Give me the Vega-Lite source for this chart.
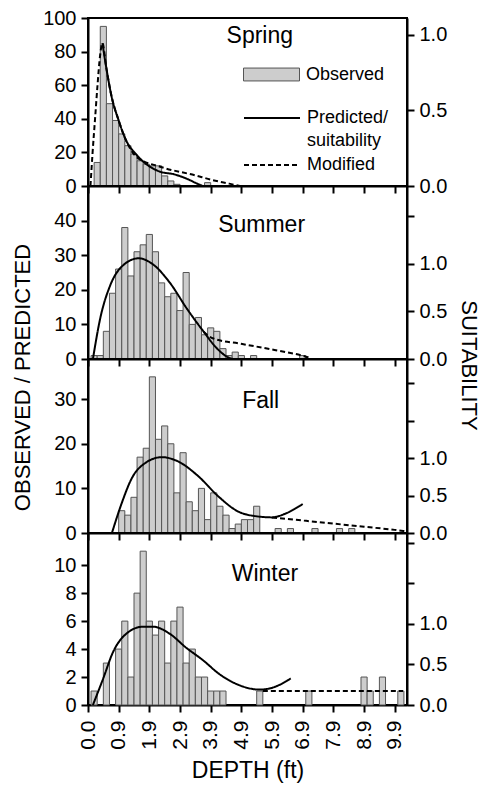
{
  "$schema": "https://vega.github.io/schema/vega-lite/v6.json",
  "padding": {"left": 9, "top": 7, "right": 0, "bottom": 0},
  "spacing": 0,
  "bounds": "flush",
  "config": {
    "font": "Liberation Sans",
    "view": {"stroke": "#000", "strokeWidth": 2},
    "axis": {"domainColor": "#000", "domainWidth": 2, "tickColor": "#000", "tickWidth": 2, "tickSize": 7, "tickCount": 20, "labelColor": "#000", "labelFontSize": 20, "labelFont": "Liberation Sans", "labelPadding": 5, "labelOverlap": false, "labelFlush": false, "labelBound": false, "grid": false, "titleColor": "#000", "titleFontWeight": "normal", "titleFont": "Liberation Sans"},
    "legend": {"padding": 0, "labelFont": "Liberation Sans", "labelFontSize": 18, "labelColor": "#000"}
  },
  "resolve": {"scale": {"fill": "independent", "strokeDash": "independent"}, "legend": {"fill": "independent", "strokeDash": "independent"}},
  "datasets": {
    "bars": [
      {"s": "Spring", "lo": 0.2, "hi": 0.4, "n": 14}, {"s": "Spring", "lo": 0.4, "hi": 0.6, "n": 95}, {"s": "Spring", "lo": 0.6, "hi": 0.8, "n": 49}, {"s": "Spring", "lo": 0.8, "hi": 1.0, "n": 39}, {"s": "Spring", "lo": 1.0, "hi": 1.2, "n": 31}, {"s": "Spring", "lo": 1.2, "hi": 1.4, "n": 24}, {"s": "Spring", "lo": 1.4, "hi": 1.6, "n": 19}, {"s": "Spring", "lo": 1.6, "hi": 1.8, "n": 15}, {"s": "Spring", "lo": 1.8, "hi": 2.0, "n": 13}, {"s": "Spring", "lo": 2.0, "hi": 2.2, "n": 12}, {"s": "Spring", "lo": 2.2, "hi": 2.4, "n": 12}, {"s": "Spring", "lo": 2.4, "hi": 2.6, "n": 6}, {"s": "Spring", "lo": 2.6, "hi": 2.8, "n": 3}, {"s": "Spring", "lo": 2.8, "hi": 3.0, "n": 1}, {"s": "Spring", "lo": 3.8, "hi": 4.0, "n": 2},
      {"s": "Summer", "lo": 0.1, "hi": 0.3, "n": 1}, {"s": "Summer", "lo": 0.3, "hi": 0.5, "n": 1}, {"s": "Summer", "lo": 0.5, "hi": 0.7, "n": 8}, {"s": "Summer", "lo": 0.7, "hi": 0.9, "n": 19}, {"s": "Summer", "lo": 0.9, "hi": 1.1, "n": 26}, {"s": "Summer", "lo": 1.1, "hi": 1.3, "n": 38}, {"s": "Summer", "lo": 1.3, "hi": 1.5, "n": 24}, {"s": "Summer", "lo": 1.5, "hi": 1.7, "n": 31}, {"s": "Summer", "lo": 1.7, "hi": 1.9, "n": 33}, {"s": "Summer", "lo": 1.9, "hi": 2.1, "n": 36}, {"s": "Summer", "lo": 2.1, "hi": 2.3, "n": 31}, {"s": "Summer", "lo": 2.3, "hi": 2.5, "n": 22}, {"s": "Summer", "lo": 2.5, "hi": 2.7, "n": 18}, {"s": "Summer", "lo": 2.7, "hi": 2.9, "n": 19}, {"s": "Summer", "lo": 2.9, "hi": 3.1, "n": 14}, {"s": "Summer", "lo": 3.1, "hi": 3.3, "n": 25}, {"s": "Summer", "lo": 3.3, "hi": 3.5, "n": 10}, {"s": "Summer", "lo": 3.5, "hi": 3.7, "n": 12}, {"s": "Summer", "lo": 3.7, "hi": 3.9, "n": 7}, {"s": "Summer", "lo": 3.9, "hi": 4.1, "n": 9}, {"s": "Summer", "lo": 4.1, "hi": 4.3, "n": 8}, {"s": "Summer", "lo": 4.3, "hi": 4.5, "n": 3}, {"s": "Summer", "lo": 4.5, "hi": 4.7, "n": 1}, {"s": "Summer", "lo": 4.7, "hi": 4.9, "n": 2}, {"s": "Summer", "lo": 4.9, "hi": 5.1, "n": 1}, {"s": "Summer", "lo": 5.3, "hi": 5.5, "n": 1}, {"s": "Summer", "lo": 6.9, "hi": 7.1, "n": 1},
      {"s": "Fall", "lo": 1.0, "hi": 1.2, "n": 5}, {"s": "Fall", "lo": 1.2, "hi": 1.4, "n": 4}, {"s": "Fall", "lo": 1.4, "hi": 1.6, "n": 8}, {"s": "Fall", "lo": 1.6, "hi": 1.8, "n": 17}, {"s": "Fall", "lo": 1.8, "hi": 2.0, "n": 19}, {"s": "Fall", "lo": 2.0, "hi": 2.2, "n": 35}, {"s": "Fall", "lo": 2.2, "hi": 2.4, "n": 21}, {"s": "Fall", "lo": 2.4, "hi": 2.6, "n": 24}, {"s": "Fall", "lo": 2.6, "hi": 2.8, "n": 20}, {"s": "Fall", "lo": 2.8, "hi": 3.0, "n": 9}, {"s": "Fall", "lo": 3.0, "hi": 3.2, "n": 18}, {"s": "Fall", "lo": 3.2, "hi": 3.4, "n": 7}, {"s": "Fall", "lo": 3.4, "hi": 3.6, "n": 5}, {"s": "Fall", "lo": 3.6, "hi": 3.8, "n": 10}, {"s": "Fall", "lo": 3.8, "hi": 4.0, "n": 3}, {"s": "Fall", "lo": 4.0, "hi": 4.2, "n": 9}, {"s": "Fall", "lo": 4.2, "hi": 4.4, "n": 6}, {"s": "Fall", "lo": 4.4, "hi": 4.6, "n": 4}, {"s": "Fall", "lo": 4.6, "hi": 4.8, "n": 1}, {"s": "Fall", "lo": 4.8, "hi": 5.0, "n": 2}, {"s": "Fall", "lo": 5.0, "hi": 5.2, "n": 3}, {"s": "Fall", "lo": 5.2, "hi": 5.4, "n": 3}, {"s": "Fall", "lo": 5.4, "hi": 5.6, "n": 6}, {"s": "Fall", "lo": 6.1, "hi": 6.3, "n": 1}, {"s": "Fall", "lo": 6.5, "hi": 6.7, "n": 1}, {"s": "Fall", "lo": 7.3, "hi": 7.5, "n": 1}, {"s": "Fall", "lo": 8.1, "hi": 8.3, "n": 1}, {"s": "Fall", "lo": 8.5, "hi": 8.7, "n": 1},
      {"s": "Winter", "lo": 0.1, "hi": 0.3, "n": 1}, {"s": "Winter", "lo": 0.5, "hi": 0.7, "n": 3}, {"s": "Winter", "lo": 0.9, "hi": 1.1, "n": 4}, {"s": "Winter", "lo": 1.1, "hi": 1.3, "n": 6}, {"s": "Winter", "lo": 1.3, "hi": 1.5, "n": 2}, {"s": "Winter", "lo": 1.5, "hi": 1.7, "n": 8}, {"s": "Winter", "lo": 1.7, "hi": 1.9, "n": 11}, {"s": "Winter", "lo": 1.9, "hi": 2.1, "n": 6}, {"s": "Winter", "lo": 2.1, "hi": 2.3, "n": 5}, {"s": "Winter", "lo": 2.3, "hi": 2.5, "n": 6}, {"s": "Winter", "lo": 2.5, "hi": 2.7, "n": 3}, {"s": "Winter", "lo": 2.7, "hi": 2.9, "n": 6}, {"s": "Winter", "lo": 2.9, "hi": 3.1, "n": 7}, {"s": "Winter", "lo": 3.1, "hi": 3.3, "n": 3}, {"s": "Winter", "lo": 3.3, "hi": 3.5, "n": 4}, {"s": "Winter", "lo": 3.5, "hi": 3.7, "n": 2}, {"s": "Winter", "lo": 3.7, "hi": 3.9, "n": 2}, {"s": "Winter", "lo": 3.9, "hi": 4.1, "n": 1}, {"s": "Winter", "lo": 4.1, "hi": 4.3, "n": 1}, {"s": "Winter", "lo": 4.3, "hi": 4.5, "n": 1}, {"s": "Winter", "lo": 5.5, "hi": 5.7, "n": 1}, {"s": "Winter", "lo": 7.1, "hi": 7.3, "n": 1}, {"s": "Winter", "lo": 8.9, "hi": 9.1, "n": 2}, {"s": "Winter", "lo": 9.1, "hi": 9.3, "n": 1}, {"s": "Winter", "lo": 9.5, "hi": 9.7, "n": 2}, {"s": "Winter", "lo": 10.1, "hi": 10.3, "n": 1}
    ],
    "lines": [
      {"s": "Spring", "k": "Predicted/suitability", "x": 0.47, "y": 85}, {"s": "Spring", "k": "Predicted/suitability", "x": 0.6, "y": 70}, {"s": "Spring", "k": "Predicted/suitability", "x": 0.76, "y": 54}, {"s": "Spring", "k": "Predicted/suitability", "x": 1.0, "y": 39}, {"s": "Spring", "k": "Predicted/suitability", "x": 1.22, "y": 28}, {"s": "Spring", "k": "Predicted/suitability", "x": 1.56, "y": 19}, {"s": "Spring", "k": "Predicted/suitability", "x": 1.9, "y": 13}, {"s": "Spring", "k": "Predicted/suitability", "x": 2.35, "y": 8.5}, {"s": "Spring", "k": "Predicted/suitability", "x": 2.8, "y": 7}, {"s": "Spring", "k": "Predicted/suitability", "x": 3.26, "y": 4}, {"s": "Spring", "k": "Predicted/suitability", "x": 3.55, "y": 1.5}, {"s": "Spring", "k": "Predicted/suitability", "x": 3.75, "y": 0},
      {"s": "Spring", "k": "Modified", "x": 0.08, "y": 0}, {"s": "Spring", "k": "Modified", "x": 0.15, "y": 20}, {"s": "Spring", "k": "Modified", "x": 0.23, "y": 40}, {"s": "Spring", "k": "Modified", "x": 0.31, "y": 60}, {"s": "Spring", "k": "Modified", "x": 0.39, "y": 77}, {"s": "Spring", "k": "Modified", "x": 0.47, "y": 85}, {"s": "Spring", "k": "Modified", "x": 0.6, "y": 70}, {"s": "Spring", "k": "Modified", "x": 0.76, "y": 54}, {"s": "Spring", "k": "Modified", "x": 1.0, "y": 39}, {"s": "Spring", "k": "Modified", "x": 1.22, "y": 28}, {"s": "Spring", "k": "Modified", "x": 1.6, "y": 17}, {"s": "Spring", "k": "Modified", "x": 2.35, "y": 11.5}, {"s": "Spring", "k": "Modified", "x": 3.5, "y": 6.3}, {"s": "Spring", "k": "Modified", "x": 4.05, "y": 3.6}, {"s": "Spring", "k": "Modified", "x": 4.6, "y": 1.4}, {"s": "Spring", "k": "Modified", "x": 4.95, "y": 0},
      {"s": "Summer", "k": "Predicted/suitability", "x": 0.16, "y": 0}, {"s": "Summer", "k": "Predicted/suitability", "x": 0.4, "y": 11.8}, {"s": "Summer", "k": "Predicted/suitability", "x": 0.73, "y": 21.4}, {"s": "Summer", "k": "Predicted/suitability", "x": 1.16, "y": 27.2}, {"s": "Summer", "k": "Predicted/suitability", "x": 1.65, "y": 29.1}, {"s": "Summer", "k": "Predicted/suitability", "x": 2.14, "y": 27.2}, {"s": "Summer", "k": "Predicted/suitability", "x": 2.68, "y": 21.9}, {"s": "Summer", "k": "Predicted/suitability", "x": 3.22, "y": 14.6}, {"s": "Summer", "k": "Predicted/suitability", "x": 3.77, "y": 7.9}, {"s": "Summer", "k": "Predicted/suitability", "x": 4.2, "y": 3.1}, {"s": "Summer", "k": "Predicted/suitability", "x": 4.64, "y": 0.2}, {"s": "Summer", "k": "Predicted/suitability", "x": 4.74, "y": 0},
      {"s": "Summer", "k": "Modified", "x": 3.77, "y": 7.9}, {"s": "Summer", "k": "Modified", "x": 4.06, "y": 6}, {"s": "Summer", "k": "Modified", "x": 4.99, "y": 4.4}, {"s": "Summer", "k": "Modified", "x": 6.08, "y": 2.6}, {"s": "Summer", "k": "Modified", "x": 7.17, "y": 0.5}, {"s": "Summer", "k": "Modified", "x": 7.27, "y": 0.2},
      {"s": "Fall", "k": "Predicted/suitability", "x": 0.78, "y": 0}, {"s": "Fall", "k": "Predicted/suitability", "x": 1.1, "y": 6.7}, {"s": "Fall", "k": "Predicted/suitability", "x": 1.43, "y": 12.3}, {"s": "Fall", "k": "Predicted/suitability", "x": 1.87, "y": 15.7}, {"s": "Fall", "k": "Predicted/suitability", "x": 2.41, "y": 17}, {"s": "Fall", "k": "Predicted/suitability", "x": 2.95, "y": 16}, {"s": "Fall", "k": "Predicted/suitability", "x": 3.6, "y": 12.7}, {"s": "Fall", "k": "Predicted/suitability", "x": 4.25, "y": 8.2}, {"s": "Fall", "k": "Predicted/suitability", "x": 4.9, "y": 4.8}, {"s": "Fall", "k": "Predicted/suitability", "x": 5.55, "y": 3.7}, {"s": "Fall", "k": "Predicted/suitability", "x": 6.0, "y": 3.5}, {"s": "Fall", "k": "Predicted/suitability", "x": 6.42, "y": 4.3}, {"s": "Fall", "k": "Predicted/suitability", "x": 7.0, "y": 6.5},
      {"s": "Fall", "k": "Modified", "x": 6.0, "y": 3.5}, {"s": "Fall", "k": "Modified", "x": 7.0, "y": 2.8}, {"s": "Fall", "k": "Modified", "x": 8.0, "y": 2.1}, {"s": "Fall", "k": "Modified", "x": 9.0, "y": 1.4}, {"s": "Fall", "k": "Modified", "x": 10.0, "y": 0.7}, {"s": "Fall", "k": "Modified", "x": 10.35, "y": 0.4},
      {"s": "Winter", "k": "Predicted/suitability", "x": 0.16, "y": 0}, {"s": "Winter", "k": "Predicted/suitability", "x": 0.49, "y": 1.86}, {"s": "Winter", "k": "Predicted/suitability", "x": 0.82, "y": 3.8}, {"s": "Winter", "k": "Predicted/suitability", "x": 1.25, "y": 5.1}, {"s": "Winter", "k": "Predicted/suitability", "x": 1.79, "y": 5.6}, {"s": "Winter", "k": "Predicted/suitability", "x": 2.12, "y": 5.6}, {"s": "Winter", "k": "Predicted/suitability", "x": 2.66, "y": 5.1}, {"s": "Winter", "k": "Predicted/suitability", "x": 3.2, "y": 4.1}, {"s": "Winter", "k": "Predicted/suitability", "x": 3.75, "y": 3.2}, {"s": "Winter", "k": "Predicted/suitability", "x": 4.29, "y": 2.2}, {"s": "Winter", "k": "Predicted/suitability", "x": 4.95, "y": 1.4}, {"s": "Winter", "k": "Predicted/suitability", "x": 5.6, "y": 1.1}, {"s": "Winter", "k": "Predicted/suitability", "x": 6.03, "y": 1.25}, {"s": "Winter", "k": "Predicted/suitability", "x": 6.61, "y": 1.9},
      {"s": "Winter", "k": "Modified", "x": 5.7, "y": 1.0}, {"s": "Winter", "k": "Modified", "x": 10.27, "y": 1.0}
    ]
  },
  "vconcat": [
    {
      "width": 319, "height": 168,
      "layer": [
        {
          "layer": [
            {
              "data": {"name": "bars"}, "transform": [{"filter": "datum.s == 'Spring'"}],
              "mark": {"type": "bar", "stroke": "#555", "strokeWidth": 1},
              "encoding": {
                "x": {"field": "lo", "type": "quantitative", "scale": {"domain": [0, 10.4], "nice": false, "zero": false}, "axis": {"values": [0,1,2,3,4,5,6,7,8,9,10], "tickCount": 20, "labels": false, "title": null}},
                "x2": {"field": "hi"},
                "y": {"field": "n", "type": "quantitative", "scale": {"domain": [0, 100], "nice": false}, "axis": {"values": [0,20,40,60,80,100], "tickCount": 20, "format": "d", "title": null}},
                "y2": {"datum": 0},
                "fill": {"datum": "Observed", "type": "nominal", "scale": {"range": ["#cdcdcd"]}, "legend": {"orient": "none", "legendX": 155, "legendY": 28, "title": null, "symbolType": "M-1,-0.23H1V0.23H-1Z", "symbolSize": 3136, "symbolStrokeColor": "#555", "symbolStrokeWidth": 1, "symbolOpacity": 1, "labelOffset": 6}}
              }
            },
            {
              "data": {"name": "lines"}, "transform": [{"filter": "datum.s == 'Spring'"}],
              "mark": {"type": "line", "color": "#000", "strokeWidth": 2, "interpolate": "monotone"},
              "encoding": {
                "x": {"field": "x", "type": "quantitative"},
                "y": {"field": "y", "type": "quantitative"},
                "strokeDash": {"field": "k", "type": "nominal", "scale": {"domain": ["Predicted/suitability", "Modified"], "range": [[1, 0], [5, 3]]}, "legend": {"orient": "none", "legendX": 169, "legendY": 85, "title": null, "symbolType": "M-2,0L2,0", "symbolSize": 784, "symbolStrokeColor": "#000", "symbolStrokeWidth": 2, "labelOffset": 20, "labelBaseline": "middle", "rowPadding": -2, "labelExpr": "datum.label == 'Modified' ? 'Modified' : ['Predicted/', 'suitability']", "encode": {"labels": {"update": {"lineHeight": {"value": 23}}}}}}
              }
            },
            {
              "data": {"values": [{"t": "Spring"}]},
              "mark": {"type": "text", "fontSize": 23, "color": "#000"},
              "encoding": {"x": {"datum": 5.6, "type": "quantitative"}, "y": {"datum": 89, "type": "quantitative"}, "text": {"field": "t"}}
            }
          ]
        },
        {
          "data": {"values": [{}]},
          "mark": {"type": "rule", "opacity": 0},
          "encoding": {"y": {"datum": 0, "type": "quantitative", "scale": {"domain": [0, 1.111], "nice": false}, "axis": {"orient": "right", "values": [0, 0.5, 1], "tickCount": 20, "format": ".1f", "title": null}}}
        }
      ],
      "resolve": {"scale": {"y": "independent"}}
    },
    {
      "width": 319, "height": 173,
      "layer": [
        {
          "layer": [
            {
              "data": {"name": "bars"}, "transform": [{"filter": "datum.s == 'Summer'"}],
              "mark": {"type": "bar", "stroke": "#555", "strokeWidth": 1, "fill": "#cdcdcd"},
              "encoding": {
                "x": {"field": "lo", "type": "quantitative", "scale": {"domain": [0, 10.4], "nice": false, "zero": false}, "axis": {"values": [0,1,2,3,4,5,6,7,8,9,10], "tickCount": 20, "labels": false, "title": null}},
                "x2": {"field": "hi"},
                "y": {"field": "n", "type": "quantitative", "scale": {"domain": [0, 50], "nice": false}, "axis": {"values": [0,10,20,30,40], "tickCount": 20, "format": "d", "title": null}},
                "y2": {"datum": 0}
              }
            },
            {
              "data": {"name": "lines"}, "transform": [{"filter": "datum.s == 'Summer'"}],
              "mark": {"type": "line", "color": "#000", "strokeWidth": 2, "interpolate": "monotone"},
              "encoding": {
                "x": {"field": "x", "type": "quantitative"},
                "y": {"field": "y", "type": "quantitative"},
                "strokeDash": {"field": "k", "type": "nominal", "scale": {"domain": ["Predicted/suitability", "Modified"], "range": [[1, 0], [5, 3]]}, "legend": null}
              }
            },
            {
              "data": {"values": [{"t": "Summer"}]},
              "mark": {"type": "text", "fontSize": 23, "color": "#000"},
              "encoding": {"x": {"datum": 5.66, "type": "quantitative"}, "y": {"datum": 38.7, "type": "quantitative"}, "text": {"field": "t"}}
            }
          ]
        },
        {
          "data": {"values": [{}]},
          "mark": {"type": "rule", "opacity": 0},
          "encoding": {"y": {"datum": 0, "type": "quantitative", "scale": {"domain": [0, 1.812], "nice": false}, "axis": {"orient": "right", "values": [0, 0.5, 1, 1.5], "tickCount": 20, "labelExpr": "datum.value > 1.01 ? '' : format(datum.value, '.1f')", "title": null}}}
        }
      ],
      "resolve": {"scale": {"y": "independent"}}
    },
    {
      "width": 319, "height": 174,
      "layer": [
        {
          "layer": [
            {
              "data": {"name": "bars"}, "transform": [{"filter": "datum.s == 'Fall'"}],
              "mark": {"type": "bar", "stroke": "#555", "strokeWidth": 1, "fill": "#cdcdcd"},
              "encoding": {
                "x": {"field": "lo", "type": "quantitative", "scale": {"domain": [0, 10.4], "nice": false, "zero": false}, "axis": {"values": [0,1,2,3,4,5,6,7,8,9,10], "tickCount": 20, "labels": false, "title": null}},
                "x2": {"field": "hi"},
                "y": {"field": "n", "type": "quantitative", "scale": {"domain": [0, 39], "nice": false}, "axis": {"values": [0,10,20,30], "tickCount": 20, "format": "d", "title": "OBSERVED / PREDICTED", "titleX": -66, "titleY": 18, "titleAngle": -90, "titleAlign": "center", "titleBaseline": "middle", "titleFontSize": 22}},
                "y2": {"datum": 0}
              }
            },
            {
              "data": {"name": "lines"}, "transform": [{"filter": "datum.s == 'Fall'"}],
              "mark": {"type": "line", "color": "#000", "strokeWidth": 2, "interpolate": "monotone"},
              "encoding": {
                "x": {"field": "x", "type": "quantitative"},
                "y": {"field": "y", "type": "quantitative"},
                "strokeDash": {"field": "k", "type": "nominal", "scale": {"domain": ["Predicted/suitability", "Modified"], "range": [[1, 0], [5, 3]]}, "legend": null}
              }
            },
            {
              "data": {"values": [{"t": "Fall"}]},
              "mark": {"type": "text", "fontSize": 23, "color": "#000"},
              "encoding": {"x": {"datum": 5.63, "type": "quantitative"}, "y": {"datum": 29.5, "type": "quantitative"}, "text": {"field": "t"}}
            }
          ]
        },
        {
          "data": {"values": [{}]},
          "mark": {"type": "rule", "opacity": 0},
          "encoding": {"y": {"datum": 0, "type": "quantitative", "scale": {"domain": [0, 2.321], "nice": false}, "axis": {"orient": "right", "values": [0, 0.5, 1, 1.5, 2], "tickCount": 20, "labelExpr": "datum.value > 1.01 ? '' : format(datum.value, '.1f')", "title": "SUITABILITY", "titleX": 61, "titleY": 6, "titleAngle": 90, "titleAlign": "center", "titleBaseline": "middle", "titleFontSize": 22}}}
        }
      ],
      "resolve": {"scale": {"y": "independent"}}
    },
    {
      "width": 319, "height": 172,
      "layer": [
        {
          "layer": [
            {
              "data": {"name": "bars"}, "transform": [{"filter": "datum.s == 'Winter'"}],
              "mark": {"type": "bar", "stroke": "#555", "strokeWidth": 1, "fill": "#cdcdcd"},
              "encoding": {
                "x": {"field": "lo", "type": "quantitative", "scale": {"domain": [0, 10.4], "nice": false, "zero": false}, "axis": {"values": [0,1,2,3,4,5,6,7,8,9,10], "tickCount": 20, "labelAngle": -90, "labelPadding": 8, "labelFontSize": 21, "labelExpr": "datum.value == 0 ? '0.0' : format(datum.value - 0.1, '.1f')", "title": "DEPTH (ft)", "titleFontSize": 23, "titlePadding": 10}},
                "x2": {"field": "hi"},
                "y": {"field": "n", "type": "quantitative", "scale": {"domain": [0, 12.3], "nice": false}, "axis": {"values": [0,2,4,6,8,10], "tickCount": 20, "format": "d", "title": null}},
                "y2": {"datum": 0}
              }
            },
            {
              "data": {"name": "lines"}, "transform": [{"filter": "datum.s == 'Winter'"}],
              "mark": {"type": "line", "color": "#000", "strokeWidth": 2, "interpolate": "monotone"},
              "encoding": {
                "x": {"field": "x", "type": "quantitative"},
                "y": {"field": "y", "type": "quantitative"},
                "strokeDash": {"field": "k", "type": "nominal", "scale": {"domain": ["Predicted/suitability", "Modified"], "range": [[1, 0], [5, 3]]}, "legend": null}
              }
            },
            {
              "data": {"values": [{"t": "Winter"}]},
              "mark": {"type": "text", "fontSize": 23, "color": "#000"},
              "encoding": {"x": {"datum": 5.77, "type": "quantitative"}, "y": {"datum": 9.4, "type": "quantitative"}, "text": {"field": "t"}}
            }
          ]
        },
        {
          "data": {"values": [{}]},
          "mark": {"type": "rule", "opacity": 0},
          "encoding": {"y": {"datum": 0, "type": "quantitative", "scale": {"domain": [0, 2.121], "nice": false}, "axis": {"orient": "right", "values": [0, 0.5, 1, 1.5, 2], "tickCount": 20, "labelExpr": "datum.value > 1.01 ? '' : format(datum.value, '.1f')", "title": null}}}
        }
      ],
      "resolve": {"scale": {"y": "independent"}}
    }
  ]
}
